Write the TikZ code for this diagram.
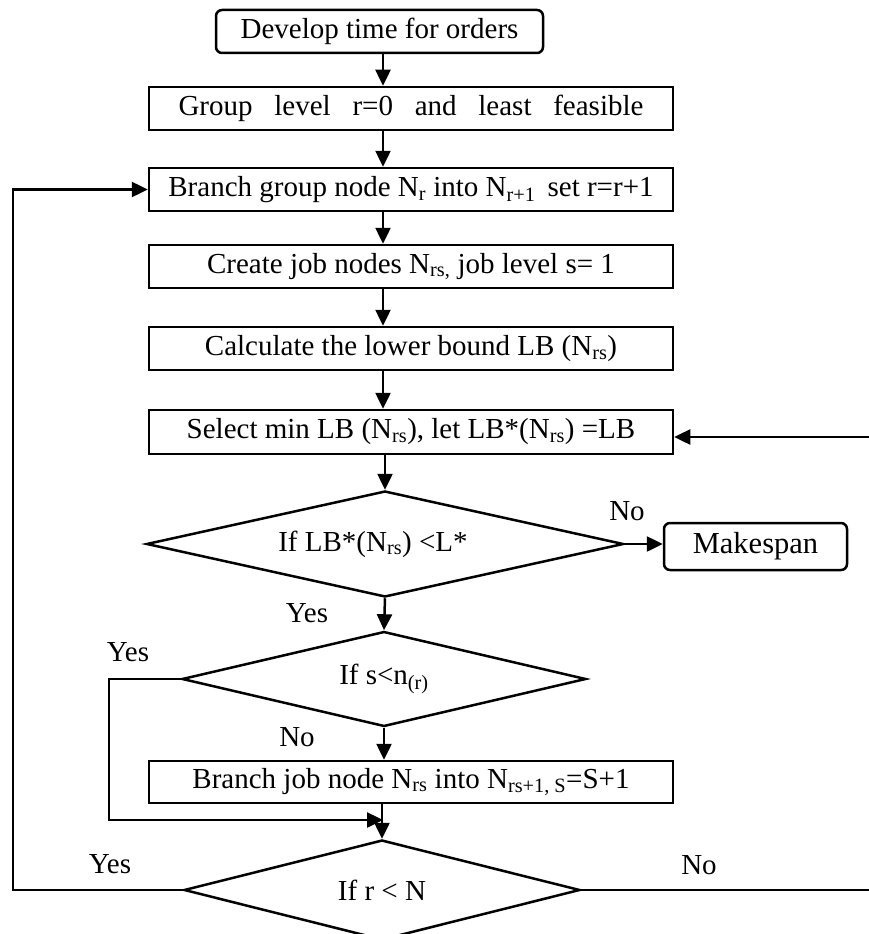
\documentclass[tikz,border=0pt]{standalone}
\usepackage{fontspec}
\setmainfont{Liberation Serif}
\usetikzlibrary{shapes.geometric,arrows.meta}
\newcommand{\sbs}[1]{\textsubscript{#1}}
\begin{document}
\begin{tikzpicture}[x=1pt,y=-1pt,
  every node/.style={font=\fontsize{29pt}{33pt}\selectfont, inner sep=0pt},
  procbox/.style={draw, line width=2.5pt, minimum width=524pt, minimum height=43pt},
  roundbox/.style={draw, line width=2.5pt, rounded corners=6pt},
  decision/.style={draw, diamond, line width=2.5pt, inner sep=0pt},
  arr/.style={line width=2.5pt, -{Triangle[length=16pt,width=15pt]}},
  ln/.style={line width=2.5pt}]
\clip (0,0) rectangle (869,934);
\fill[white] (0,0) rectangle (869,934);
\coordinate (col) at (383,0);
\coordinate (yl) at (109,0);
\coordinate (ll) at (13,0);
\coordinate (jn) at (383,820);
\coordinate (ri) at (869,437);
\coordinate (re) at (869,890);

\node[roundbox, minimum width=327pt, minimum height=43pt] (b1) at (379.5,31.5) {Develop time for orders};
\node[procbox] (b2) at (411,108.5) {Group\hspace{0.75em}level\hspace{0.75em}r=0\hspace{0.75em}and\hspace{0.75em}least\hspace{0.75em}feasible};
\node[procbox] (b3) at (411,189.5) {Branch group node N\sbs{r} into N\sbs{r+1}\, set r=r+1};
\node[procbox] (b4) at (411,266.5) {Create job nodes N\sbs{rs,} job level s= 1};
\node[procbox] (b5) at (411,348.5) {Calculate the lower bound LB (N\sbs{rs})};
\node[procbox, minimum height=44pt] (b6) at (411,432) {Select min LB (N\sbs{rs}), let LB*(N\sbs{rs}) =LB};
\node[decision, aspect=4.5, minimum width=477pt, minimum height=106pt] (d1) at (385,544) {If LB*(N\sbs{rs}) <L*\kern24pt\null};
\node[roundbox, minimum width=183pt, minimum height=47pt, font=\fontsize{30.5pt}{34pt}\selectfont] (mk) at (755.5,546.5) {Makespan};
\node[decision, aspect=4.25, minimum width=404pt, minimum height=95pt] (d2) at (384,679) {If s<n\sbs{(r)}};
\node[procbox, minimum height=42pt] (b7) at (411,782) {Branch job node N\sbs{rs} into N\sbs{rs+1, S}=S+1};
\node[decision, aspect=3.96, minimum width=396pt, minimum height=100pt] (d3) at (382,890) {If r < N};

\node (lno1) at (627,511) {No};
\node (lyes1) at (307,613) {Yes};
\node (lyes2) at (128,652) {Yes};
\node (lno2) at (297,737) {No};
\node (lyes3) at (110,864) {Yes};
\node (lno3) at (699,865) {No};

\draw[arr] (b1.south -| col) -- (b2.north -| col);
\draw[arr] (b2.south -| col) -- (b3.north -| col);
\draw[arr] (b3.south -| col) -- (b4.north -| col);
\draw[arr] (b4.south -| col) -- (b5.north -| col);
\draw[arr] (b5.south -| col) -- (b6.north -| col);
\draw[arr] (b6.south -| d1.north) -- (d1.north);
\draw[arr] (d1.east) -- (d1.east -| mk.west);
\draw[arr] (d1.south) -- (d2.north);
\draw[arr] (d2.south) -- (b7.north -| d2.south);
\draw[arr] (d2.west) -- (d2.west -| yl) |- (jn);
\draw[arr] (b7.south -| d3.north) -- (d3.north);
\draw[arr] (d3.west) -- (d3.west -| ll) |- (b3.west);
\draw[ln] (d3.east) -- (re);
\draw[arr] (ri) -- (ri -| b6.east);
\end{tikzpicture}
\end{document}
